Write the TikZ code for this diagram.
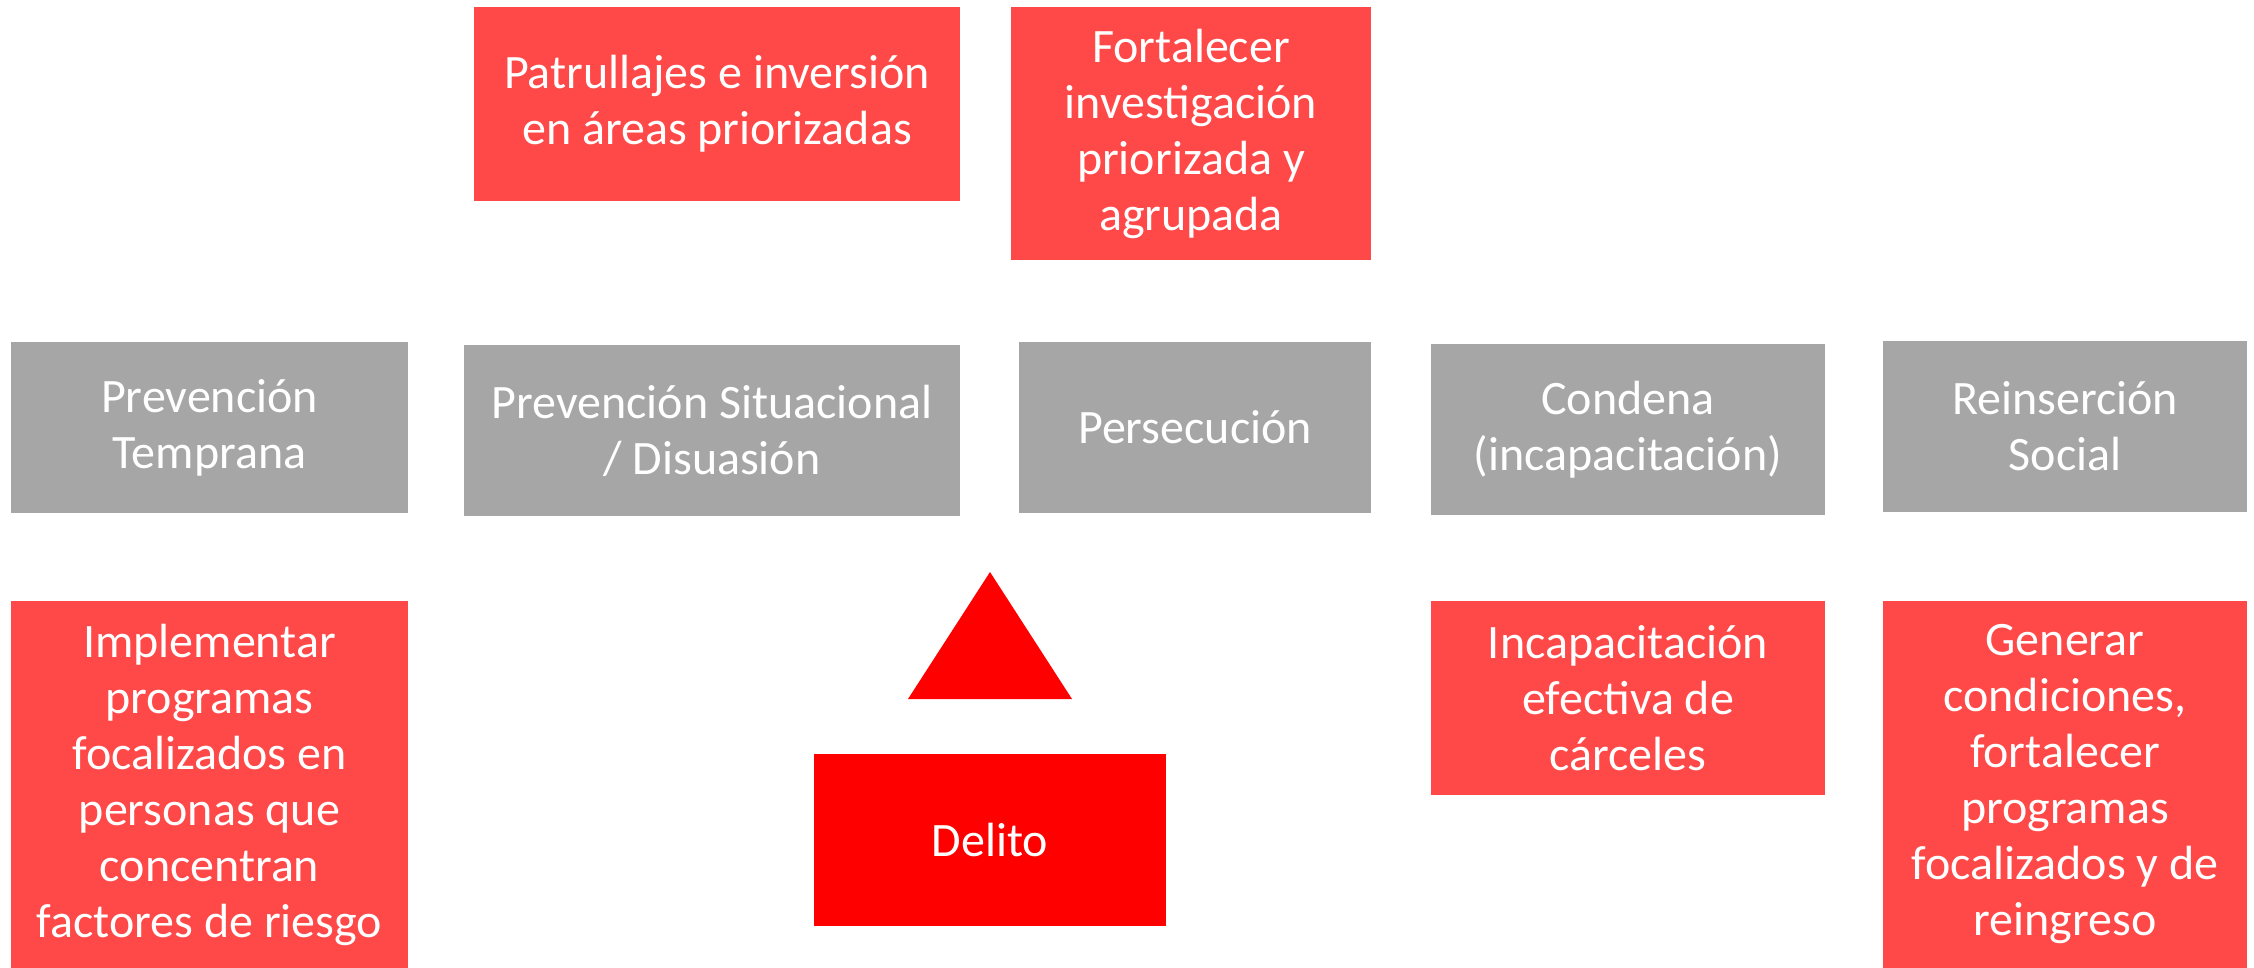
\documentclass[tikz,border=0pt]{standalone}
\usepackage{fontspec}
\setmainfont{Carlito}
\usepackage{tikz}

\definecolor{lightred}{HTML}{FF4848}
\definecolor{boxgray}{HTML}{A6A6A6}
\definecolor{strongred}{HTML}{FF0000}

\tikzset{
	box/.style={inner sep=0pt, align=center, text=white, font=\fontsize{24}{28}\selectfont},
	redbox/.style={box, fill=lightred},
	graybox/.style={box, fill=boxgray},
}

\begin{document}
\begin{tikzpicture}[x=0.5pt, y=-0.5pt]
	\useasboundingbox (0,0) rectangle (2254,968);
	% acciones superiores
	\node[redbox, minimum width=243pt, minimum height=97pt] (patrullaje) at (717,104) {Patrullajes e inversión\\en áreas priorizadas};
	\node[redbox, minimum width=180pt, minimum height=126.5pt] (investigacion) at (1191,133.5) {Fortalecer\\investigación\\priorizada y\\agrupada};
	% etapas
	\node[graybox, minimum width=198.5pt, minimum height=85.5pt] (temprana) at (209.5,427.5) {Prevención\\Temprana};
	\node[graybox, minimum width=248pt, minimum height=85.5pt] (situacional) at (712,430.5) {Prevención Situacional\\/ Disuasión};
	\node[graybox, minimum width=176pt, minimum height=85.5pt] (persecucion) at (1195,427.5) {Persecución};
	\node[graybox, minimum width=197pt, minimum height=85.5pt] (condena) at (1628,429.5) {Condena\\(incapacitación)};
	\node[graybox, minimum width=182pt, minimum height=85.5pt] (reinsercion) at (2065,426.5) {Reinserción\\Social};
	% acciones inferiores
	\node[redbox, minimum width=198.5pt, minimum height=183.5pt] (programas) at (209.5,784.5) {Implementar\\programas\\focalizados en\\personas que\\concentran\\factores de riesgo};
	\node[redbox, minimum width=197pt, minimum height=97pt] (carceles) at (1628,698) {Incapacitación\\efectiva de\\cárceles};
	\node[redbox, minimum width=182pt, minimum height=183.5pt] (reingreso) at (2065,784.5) {Generar\\condiciones,\\fortalecer\\programas\\focalizados y de\\reingreso};
	% delito
	\fill[strongred] (990,572) -- (1072,699) -- (908,699) -- cycle;
	\node[box, fill=strongred, minimum width=176pt, minimum height=86pt] (delito) at (990,840) {Delito};
\end{tikzpicture}
\end{document}
